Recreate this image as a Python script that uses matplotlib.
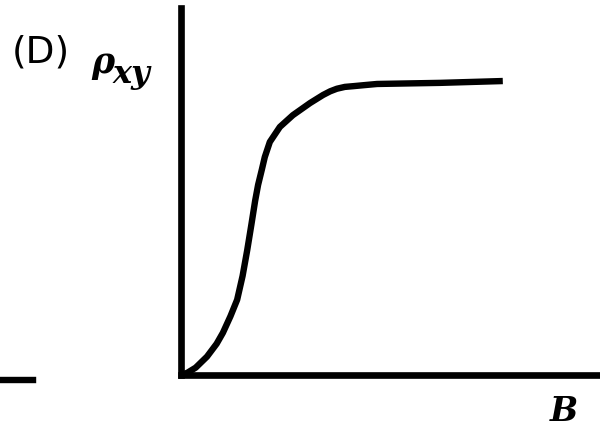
import matplotlib
matplotlib.use("Agg")
import matplotlib.pyplot as plt

# curve (B in arbitrary units, rho_xy normalised to axis height)
b_vals = [0.0, 0.15, 0.35, 0.62, 0.85, 1.0, 1.18, 1.34, 1.47, 1.58, 1.68, 1.77,
          1.84, 1.93, 2.0, 2.12, 2.36, 2.67, 3.08, 3.39, 3.56, 3.72, 3.91, 4.11,
          4.39, 4.68, 6.18, 7.68]
rho_vals = [0.0, 0.006, 0.02, 0.05, 0.085, 0.115, 0.16, 0.205, 0.27, 0.34, 0.41,
            0.475, 0.518, 0.56, 0.594, 0.635, 0.676, 0.708, 0.741, 0.763, 0.773,
            0.780, 0.785, 0.787, 0.790, 0.793, 0.796, 0.801]

panel_label = "(D)"
y_sym, y_sub = "ρ", "xy"
x_label = "B"

W, H = 600, 428
fig = plt.figure(figsize=(6, 4.28), dpi=100)

# main axes, placed in pixel units
x0, x1 = 181, 600
y_top, y_bot = 8, 375
ax = fig.add_axes([x0 / W, (H - y_bot) / H, (x1 - x0) / W, (y_bot - y_top) / H])
ax.plot(b_vals, rho_vals, color='black', lw=4.6, solid_capstyle='butt',
        solid_joinstyle='round')
ax.set_xlim(0, 10)
ax.set_ylim(0, 1)
ax.set_xticks([])
ax.set_yticks([])
for side in ['top', 'right']:
    ax.spines[side].set_visible(False)
for side in ['left', 'bottom']:
    ax.spines[side].set_linewidth(4.8)
    ax.spines[side].set_capstyle('projecting')
ax.patch.set_visible(False)

# leftover axis of the neighbouring panel
ax2 = fig.add_axes([0, (H - 380) / H, 33 / W, 0.05])
ax2.set_xticks([])
ax2.set_yticks([])
for side in ['top', 'right', 'left']:
    ax2.spines[side].set_visible(False)
ax2.spines['bottom'].set_linewidth(4.6)
ax2.patch.set_visible(False)

serif_bi = dict(family='DejaVu Serif', fontweight='bold', fontstyle='italic',
                ha='left', va='baseline')
fig.text(12 / W, (H - 63) / H, panel_label, fontsize=27, ha='left', va='baseline',
         family='DejaVu Sans')
fig.text(91 / W, (H - 73) / H, y_sym, fontsize=25, **serif_bi)
fig.text(113 / W, (H - 83) / H, y_sub, fontsize=23, **serif_bi)
fig.text(550 / W, (H - 421) / H, x_label, fontsize=24, **serif_bi)

fig.savefig("out.png", dpi=100)
